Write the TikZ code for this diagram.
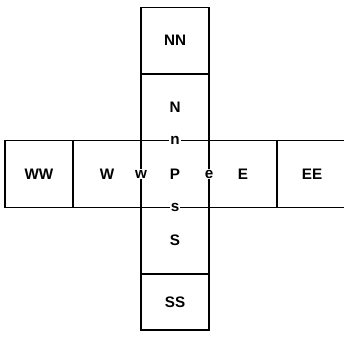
\documentclass[tikz,border=0pt]{standalone}
\usepackage{fontspec}
\setmainfont{Liberation Sans}
\usetikzlibrary{positioning}
\tikzset{
  cell/.style={draw,line width=0.9pt,minimum width=2.04cm,minimum height=2cm,
               inner sep=0pt,outer sep=0pt,font=\bfseries\fontsize{13}{15}\selectfont},
  face/.style={fill=white,inner sep=1pt,font=\bfseries\fontsize{13}{15}\selectfont},
}
\begin{document}
\begin{tikzpicture}[x=0.03cm,y=-0.03cm,node distance=0pt]
  \useasboundingbox (0,0) rectangle (344,341);
  % control volumes
  \node[cell] (P) at (175,174) {P};
  \node[cell,above=of P] (N) {N};
  \node[cell,above=of N] (NN) {NN};
  \node[cell,below=of P] (S) {S};
  \node[cell,below=of S,minimum height=1.68cm] (SS) {SS};
  \node[cell,left=of P] (W) {W};
  \node[cell,left=of W] (WW) {WW};
  \node[cell,right=of P] (E) {E};
  \node[cell,right=of E,minimum width=2.1cm] (EE) {EE};
  % faces of P
  \node[face] (n) at (P.north) {n};
  \node[face] (s) at (P.south) {s};
  \node[face] (w) at (P.west) {w};
  \node[face] (e) at (P.east) {e};
\end{tikzpicture}
\end{document}
